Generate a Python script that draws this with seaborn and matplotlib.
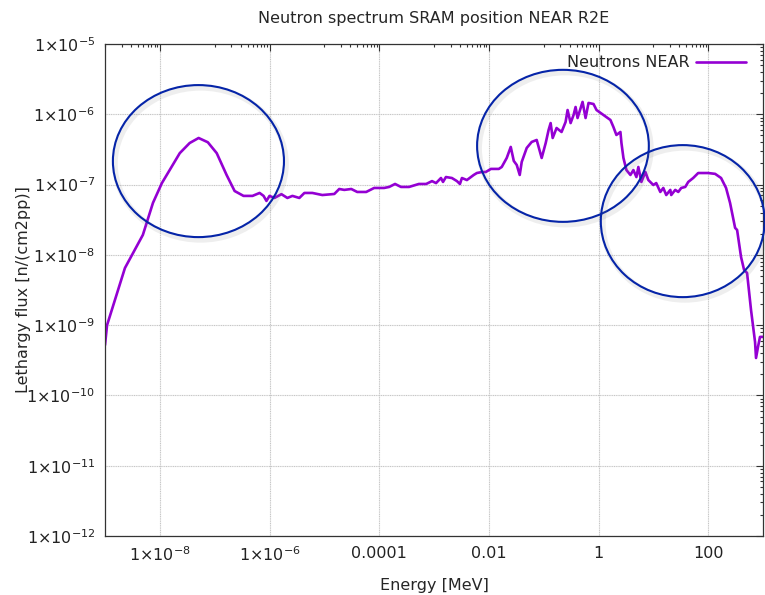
import numpy as np
import pandas as pd
import matplotlib
matplotlib.use("Agg")
import matplotlib.pyplot as plt
import matplotlib.ticker as mticker
import matplotlib.patheffects as pe
from matplotlib.patches import Ellipse
import seaborn as sns

# energy [MeV] and lethargy flux [n/(cm2pp)]
energy = [1.0e-9, 1.09e-9, 2.31e-9, 4.9e-9, 7.5e-9, 1.09e-8, 2.31e-8, 3.5e-8, 5.1e-8, 7.5e-8,
          1.09e-7, 1.65e-7, 2.31e-7, 3.36e-7, 4.9e-7, 6.6e-7, 7.8e-7, 8.8e-7, 1.0e-6, 1.23e-6,
          1.65e-6, 2.12e-6, 2.62e-6, 3.5e-6, 4.33e-6, 6.05e-6, 9.2e-6, 1.52e-5, 1.87e-5, 2.31e-5,
          3.1e-5, 3.98e-5, 5.8e-5, 8.1e-5, 1.23e-4, 1.52e-4, 1.95e-4, 2.5e-4, 3.5e-4, 5.3e-4,
          7.2e-4, 9.2e-4, 1.09e-3, 1.34e-3, 1.46e-3, 1.65e-3, 2.12e-3, 2.62e-3, 2.97e-3, 3.23e-3,
          3.98e-3, 4.7e-3, 5.3e-3, 6.05e-3, 7.5e-3, 8.8e-3, 1.09e-2, 1.52e-2, 1.72e-2, 2.12e-2,
          2.51e-2, 2.85e-2, 3.23e-2, 3.66e-2, 3.98e-2, 4.91e-2, 6.05e-2, 7.46e-2, 9.2e-2, 0.109,
          0.123, 0.134, 0.146, 0.172, 0.212, 0.251, 0.273, 0.31, 0.351, 0.382,
          0.415, 0.512, 0.581, 0.658, 0.811, 0.92, 1.23, 1.65, 1.87, 2.12,
          2.51, 2.62, 2.85, 3.23, 3.82, 4.33, 4.91, 5.33, 6.05, 7.16,
          8.11, 10.0, 11.3, 13.4, 15.2, 17.2, 20.4, 21.2, 25.1, 28.5,
          32.3, 38.2, 43.3, 53.3, 65.8, 74.6, 100.0, 134.0, 172.0, 212.0,
          251.0, 310.0, 337.0, 398.0, 452.0, 512.0, 605.0, 716.0, 746.0, 811.0,
          881.0, 1000.0]
flux = [5.2e-10, 1.0e-9, 6.5e-9, 1.92e-8, 5.5e-8, 1.05e-7, 2.8e-7, 3.9e-7, 4.6e-7, 4.0e-7,
        2.8e-7, 1.37e-7, 8.1e-8, 6.9e-8, 6.9e-8, 7.6e-8, 6.9e-8, 5.85e-8, 6.9e-8, 6.45e-8,
        7.3e-8, 6.45e-8, 6.9e-8, 6.45e-8, 7.6e-8, 7.6e-8, 7.1e-8, 7.35e-8, 8.65e-8, 8.4e-8,
        8.65e-8, 7.85e-8, 7.85e-8, 8.95e-8, 8.95e-8, 9.25e-8, 1.02e-7, 9.25e-8, 9.25e-8, 1.02e-7,
        1.02e-7, 1.12e-7, 1.05e-7, 1.24e-7, 1.09e-7, 1.28e-7, 1.24e-7, 1.12e-7, 1.02e-7, 1.24e-7,
        1.16e-7, 1.28e-7, 1.37e-7, 1.46e-7, 1.51e-7, 1.51e-7, 1.67e-7, 1.67e-7, 1.78e-7, 2.39e-7,
        3.43e-7, 2.17e-7, 1.9e-7, 1.37e-7, 2.1e-7, 3.32e-7, 4.04e-7, 4.31e-7, 2.39e-7, 3.91e-7,
        5.98e-7, 7.5e-7, 4.6e-7, 6.38e-7, 5.6e-7, 7.76e-7, 1.15e-6, 7.5e-7, 9.77e-7, 1.27e-6,
        8.85e-7, 1.5e-6, 8.85e-7, 1.45e-6, 1.4e-6, 1.15e-6, 9.77e-7, 8.3e-7, 6.6e-7, 5.08e-7,
        5.6e-7, 3.91e-7, 2.39e-7, 1.61e-7, 1.37e-7, 1.61e-7, 1.28e-7, 1.78e-7, 1.09e-7, 1.51e-7,
        1.16e-7, 9.86e-8, 1.05e-7, 7.85e-8, 8.95e-8, 7.1e-8, 8.4e-8, 7.1e-8, 8.4e-8, 7.85e-8,
        8.95e-8, 9.25e-8, 1.09e-7, 1.24e-7, 1.46e-7, 1.46e-7, 1.46e-7, 1.42e-7, 1.24e-7, 8.95e-8,
        5.47e-8, 2.42e-8, 2.26e-8, 9.3e-9, 6.1e-9, 5.53e-9, 1.64e-9, 5.77e-10, 3.41e-10, 4.9e-10,
        6.8e-10, 6.8e-10]

x_major = [1e-8, 1e-6, 1e-4, 1e-2, 1, 100]
y_major = [1e-12, 1e-11, 1e-10, 1e-9, 1e-8, 1e-7, 1e-6, 1e-5]

df = pd.DataFrame({"energy": energy, "flux": flux, "series": "Neutrons NEAR"})

sns.set_style("white")
plt.rcParams["font.family"] = ["DejaVu Sans"]
plt.rcParams["mathtext.default"] = "regular"

fig = plt.figure(figsize=(7.65, 5.95), dpi=100)
ax = fig.add_axes([105 / 765, 1 - 536 / 595, 658 / 765, 492 / 595])

sns.lineplot(data=df, x="energy", y="flux", hue="series", palette=["#9400d3"],
             linewidth=1.9, estimator=None, sort=False, ax=ax)

ax.set_xscale("log")
ax.set_yscale("log")
ax.set_xlim(1e-9, 1e3)
ax.set_ylim(1e-12, 1e-5)


def gp_fmt(v, pos=None):
    s = "%g" % v
    if "e" in s:
        m, e = s.split("e")
        return r"$%s{\times}10^{%d}$" % (m, int(e))
    return s


ax.xaxis.set_major_locator(mticker.FixedLocator(x_major))
ax.xaxis.set_minor_locator(mticker.FixedLocator(
    [k * 10.0 ** e for e in range(-9, 3, 2) for k in range(1, 10)]))
ax.yaxis.set_major_locator(mticker.FixedLocator(y_major))
ax.yaxis.set_minor_locator(mticker.LogLocator(base=10, subs=np.arange(2, 10), numticks=30))
ax.xaxis.set_major_formatter(mticker.FuncFormatter(gp_fmt))
ax.yaxis.set_major_formatter(mticker.FuncFormatter(gp_fmt))
ax.xaxis.set_minor_formatter(mticker.NullFormatter())
ax.yaxis.set_minor_formatter(mticker.NullFormatter())

ax.tick_params(which="both", direction="in", top=True, right=True, colors="#333333",
               labelcolor="#222222", labelsize=11.5, width=0.8)
ax.tick_params(which="major", length=5, pad=7)
ax.tick_params(which="minor", length=2.5)
ax.grid(True, which="major", color="#c6c6c6", lw=0.8, ls=(0, (1, 0.6)))
for sp in ax.spines.values():
    sp.set_color("#333333")
    sp.set_linewidth(0.9)

ax.set_title("Neutron spectrum SRAM position NEAR R2E", fontsize=11.5, pad=15)
ax.set_xlabel("Energy [MeV]", fontsize=11.5, labelpad=9.5)
ax.set_ylabel("Lethargy flux [n/(cm2pp)]", fontsize=11.5)
ax.yaxis.set_label_coords(-0.113, 0.5)

ax.legend(loc="upper right", bbox_to_anchor=(0.996, 1.006), frameon=False,
          markerfirst=False, handlelength=3.1, handletextpad=0.45,
          fontsize=11.5, title=None)

# blue ellipses highlighting the three peaks
for cx, cy, w, h in [(0.142, 0.762, 0.260, 0.309),
                     (0.696, 0.793, 0.261, 0.309),
                     (0.878, 0.640, 0.249, 0.309)]:
    ell = Ellipse((cx, cy), w, h, transform=ax.transAxes, fill=False,
                  edgecolor="#0524a8", lw=1.5, zorder=5, clip_on=False)
    ell.set_path_effects([pe.SimpleLineShadow(offset=(1.5, -2), shadow_color="gray",
                                              alpha=0.13, linewidth=4), pe.Normal()])
    ax.add_patch(ell)

fig.savefig("out.png", dpi=100)
